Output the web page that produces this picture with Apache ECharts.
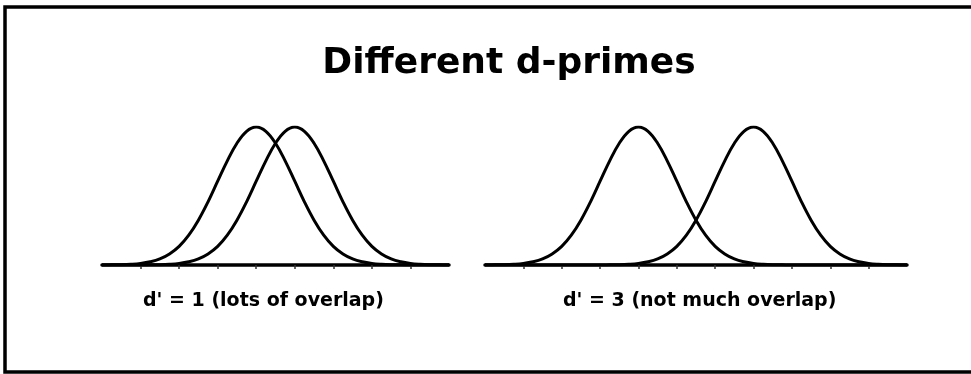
<!DOCTYPE html>
<html>
<head>
<meta charset="utf-8">
<style>
  html, body { margin: 0; padding: 0; background: #fff; }
  #chart { width: 971px; height: 374px; }
</style>
<script src="https://cdn.jsdelivr.net/npm/echarts@6/dist/echarts.min.js"></script>
</head>
<body>
<div id="chart"></div>
<script>
// Decision axis positions (in standard-deviation units), sampled every quarter unit
var leftX = [0, 0.25, 0.5, 0.75, 1, 1.25, 1.5, 1.75, 2, 2.25, 2.5, 2.75, 3, 3.25, 3.5, 3.75,
  4, 4.25, 4.5, 4.75, 5, 5.25, 5.5, 5.75, 6, 6.25, 6.5, 6.75, 7, 7.25, 7.5, 7.75,
  8, 8.25, 8.5, 8.75, 9];
var rightX = [0, 0.25, 0.5, 0.75, 1, 1.25, 1.5, 1.75, 2, 2.25, 2.5, 2.75, 3, 3.25, 3.5, 3.75,
  4, 4.25, 4.5, 4.75, 5, 5.25, 5.5, 5.75, 6, 6.25, 6.5, 6.75, 7, 7.25, 7.5, 7.75,
  8, 8.25, 8.5, 8.75, 9, 9.25, 9.5, 9.75, 10, 10.25, 10.5, 10.75, 11];

// d' = 1 : noise centred at 4, signal centred at 5 (relative height)
var leftNoise = [0, .001, .002, .005, .011, .023, .044, .080, .135, .216, .325, .458, .607, .755, .882, .969,
  1, .969, .882, .755, .607, .458, .325, .216, .135, .080, .044, .023, .011, .005, .002, .001,
  0, 0, 0, 0, 0];
var leftSignal = [0, 0, 0, 0, 0, .001, .002, .005, .011, .023, .044, .080, .135, .216, .325, .458,
  .607, .755, .882, .969, 1, .969, .882, .755, .607, .458, .325, .216, .135, .080, .044, .023,
  .011, .005, .002, .001, 0];

// d' = 3 : noise centred at 4, signal centred at 7
var rightNoise = [0, .001, .002, .005, .011, .023, .044, .080, .135, .216, .325, .458, .607, .755, .882, .969,
  1, .969, .882, .755, .607, .458, .325, .216, .135, .080, .044, .023, .011, .005, .002, .001,
  0, 0, 0, 0, 0, 0, 0, 0, 0, 0, 0, 0, 0];
var rightSignal = [0, 0, 0, 0, 0, 0, 0, 0, 0, 0, 0, 0, 0, .001, .002, .005,
  .011, .023, .044, .080, .135, .216, .325, .458, .607, .755, .882, .969, 1, .969, .882, .755,
  .607, .458, .325, .216, .135, .080, .044, .023, .011, .005, .002, .001, 0];

var leftTicks = [1, 2, 3, 4, 5, 6, 7, 8];
var rightTicks = [1, 2, 3, 4, 5, 6, 7, 8, 9, 10];

var titleText = 'Different d-primes';
var leftCaption = "d' = 1 (lots of overlap)";
var rightCaption = "d' = 3 (not much overlap)";

function pairs(xs, ys) {
  return xs.map(function (x, i) { return [x, ys[i]]; });
}

var FONT = '"DejaVu Sans", "Liberation Sans", Arial, sans-serif';

function xAxisFor(gridIndex, max, ticks) {
  return {
    type: 'value', gridIndex: gridIndex, min: 0, max: max,
    axisLine: { show: true, onZero: false, lineStyle: { color: '#000', width: 3.5 } },
    axisTick: { show: true, customValues: ticks, length: 4, lineStyle: { color: '#333', width: 1.5 } },
    axisLabel: { show: false },
    splitLine: { show: false }
  };
}
function yAxisFor(gridIndex) {
  return { type: 'value', gridIndex: gridIndex, min: 0, max: 1, show: false };
}
function curve(xi, data) {
  return {
    type: 'line', xAxisIndex: xi, yAxisIndex: xi, data: data,
    showSymbol: false, smooth: 0.4, silent: true,
    lineStyle: { color: '#000', width: 3 }, z: 5
  };
}

var chart = echarts.init(document.getElementById('chart'), null, { renderer: 'canvas' });
chart.setOption({
  backgroundColor: '#fff',
  animation: false,
  title: [
    { text: titleText, left: 509, top: 46, textAlign: 'center', padding: 0,
      textStyle: { fontFamily: FONT, fontWeight: 'bold', fontSize: 36, color: '#000' } },
    { text: leftCaption, left: 143, top: 292, padding: 0,
      textStyle: { fontFamily: FONT, fontWeight: 'bold', fontSize: 19, color: '#000' } },
    { text: rightCaption, left: 563, top: 292, padding: 0,
      textStyle: { fontFamily: FONT, fontWeight: 'bold', fontSize: 19, color: '#000' } }
  ],
  grid: [
    { left: 102, top: 127, width: 347, height: 138 },
    { left: 485, top: 127, width: 422, height: 138 }
  ],
  xAxis: [xAxisFor(0, 9, leftTicks), xAxisFor(1, 11, rightTicks)],
  yAxis: [yAxisFor(0), yAxisFor(1)],
  series: [
    curve(0, pairs(leftX, leftNoise)),
    curve(0, pairs(leftX, leftSignal)),
    curve(1, pairs(rightX, rightNoise)),
    curve(1, pairs(rightX, rightSignal))
  ],
  graphic: [
    { type: 'polyline', silent: true,
      shape: { points: [[971, 7], [5, 7], [5, 372], [971, 372]] },
      style: { stroke: '#000', lineWidth: 3.5, fill: null } }
  ]
});
</script>
</body>
</html>
